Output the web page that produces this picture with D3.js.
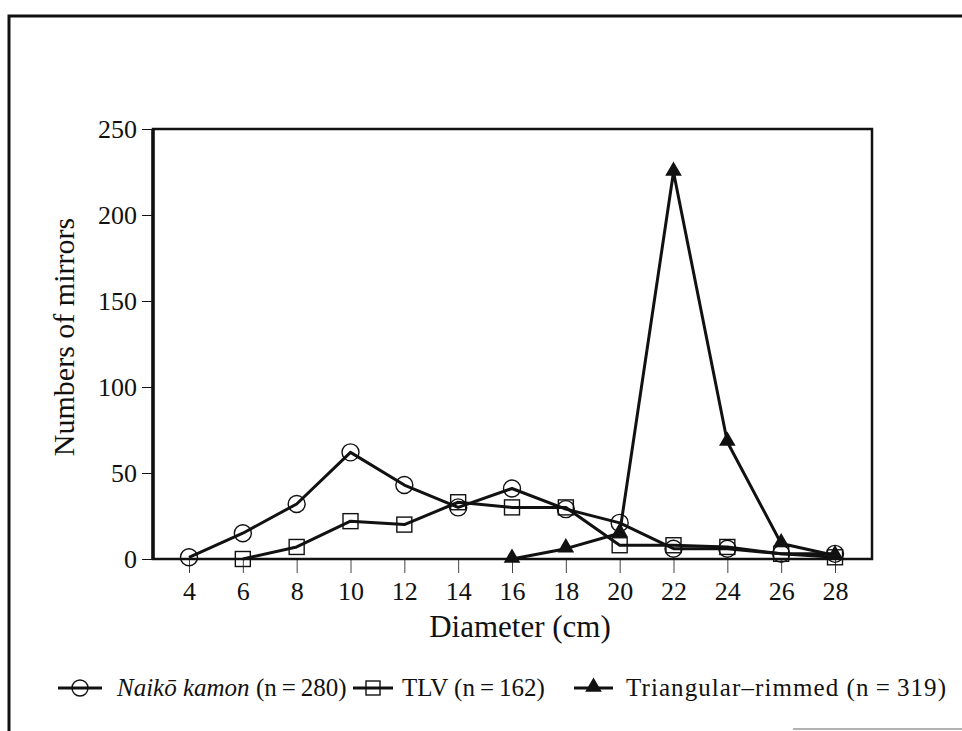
<!DOCTYPE html>
<html>
<head>
<meta charset="utf-8">
<script src="https://cdn.jsdelivr.net/npm/d3@7"></script>
<style>
  html, body { margin: 0; padding: 0; background: #fff; }
  svg { display: block; }
  svg text { font-family: 'Liberation Serif', serif; }
</style>
</head>
<body>
<svg id="chart" width="962" height="731"></svg>
<script>
// ---- data ----
const diameters = [4, 6, 8, 10, 12, 14, 16, 18, 20, 22, 24, 26, 28];
const naikoValues = [1, 15, 32, 62, 43, 30, 41, 29, 21, 6, 6, 3, 3];
const tlvDiameters = [6, 8, 10, 12, 14, 16, 18, 20, 22, 24, 26, 28];
const tlvValues = [0, 7, 22, 20, 33, 30, 30, 8, 8, 7, 3, 1];
const triDiameters = [16, 18, 20, 22, 24, 26, 28];
const triValues = [0, 6, 15, 225, 68, 9, 2];
const xTicks = [4, 6, 8, 10, 12, 14, 16, 18, 20, 22, 24, 26, 28];
const yTicks = [0, 50, 100, 150, 200, 250];
const seriesNames = ["Naikō kamon", "TLV", "Triangular–rimmed"];
const seriesN = [280, 162, 319];

(function () {
const svg = d3.select("#chart");
const ink = "#111";

// outer frame (scanned page border)
svg.append("path").attr("d", "M9,731 L9,16 L962,16")
  .attr("fill", "none").attr("stroke", ink).attr("stroke-width", 3);
svg.append("line").attr("x1", 793).attr("x2", 962).attr("y1", 729).attr("y2", 729)
  .attr("stroke", "#999").attr("stroke-width", 1.5);

// scales
const pLeft = 153, pRight = 872, pTop = 129, pBottom = 559;
const x = d3.scaleLinear().domain([4, 28]).range([189, 835]);
const y = d3.scaleLinear().domain([0, 250]).range([pBottom, pTop]);

// y axis
const yAxis = d3.axisLeft(y).tickValues(yTicks).tickSize(10).tickPadding(5);
const gy = svg.append("g").attr("transform", `translate(${pLeft - 1},0)`).call(yAxis);
gy.select(".domain").remove();
gy.selectAll(".tick line").attr("stroke", ink).attr("stroke-width", 1);
gy.selectAll(".tick text").attr("font-size", 26).attr("fill", ink);

// x axis
const xAxis = d3.axisBottom(x).tickValues(xTicks).tickSize(14).tickPadding(9);
const gx = svg.append("g").attr("transform", `translate(0,${pBottom})`).call(xAxis);
gx.select(".domain").remove();
gx.selectAll(".tick line").attr("stroke", "#444").attr("stroke-width", 1);
gx.selectAll(".tick text").attr("font-size", 26).attr("fill", ink);

// plot frame
svg.append("rect").attr("x", pLeft).attr("y", pTop).attr("width", pRight - pLeft).attr("height", pBottom - pTop)
  .attr("fill", "none").attr("stroke", ink).attr("stroke-width", 2.5);
svg.append("line").attr("x1", pLeft).attr("x2", pLeft).attr("y1", pTop).attr("y2", pBottom)
  .attr("stroke", ink).attr("stroke-width", 3.5);

// axis titles
svg.append("text").attr("x", 520).attr("y", 637).attr("text-anchor", "middle")
  .attr("fill", ink).attr("font-size", 31).text("Diameter (cm)");
svg.append("text").attr("transform", "translate(74,337) rotate(-90)").attr("text-anchor", "middle")
  .attr("fill", ink).attr("font-size", 30).text("Numbers of mirrors");

// series
const line = d3.line().x(d => x(d[0])).y(d => y(d[1]));
const naiko = diameters.map((d, i) => [d, naikoValues[i]]);
const tlv = tlvDiameters.map((d, i) => [d, tlvValues[i]]);
const tri = triDiameters.map((d, i) => [d, triValues[i]]);

const plot = svg.append("g");
[naiko, tlv, tri].forEach(s => {
  plot.append("path").datum(s).attr("d", line)
    .attr("fill", "none").attr("stroke", ink).attr("stroke-width", 3).attr("stroke-linejoin", "round");
});

function circleMarker(g, cx, cy, r) {
  g.append("circle").attr("cx", cx).attr("cy", cy).attr("r", r)
    .attr("fill", "none").attr("stroke", ink).attr("stroke-width", 1.4);
}
function squareMarker(g, cx, cy, s) {
  g.append("rect").attr("x", cx - s / 2).attr("y", cy - s / 2).attr("width", s).attr("height", s)
    .attr("fill", "none").attr("stroke", ink).attr("stroke-width", 1.4);
}
const triSym = d3.symbol().type(d3.symbolTriangle).size(120);

naiko.forEach(d => circleMarker(plot, x(d[0]), y(d[1]), 8.5));
tlv.forEach(d => squareMarker(plot, x(d[0]), y(d[1]), 15));
tri.forEach(d => plot.append("path").attr("d", triSym)
  .attr("transform", `translate(${x(d[0])},${y(d[1]) - 1})`).attr("fill", ink));

// legend
const ly = 688;
const lg = svg.append("g");
const legendItems = [
  { x0: 58, x1: 102, tx: 117, w: null },
  { x0: 353, x1: 393, tx: 402, w: null },
  { x0: 574, x1: 613, tx: 626, w: 320 }
];
legendItems.forEach((it, i) => {
  lg.append("line").attr("x1", it.x0).attr("x2", it.x1).attr("y1", ly).attr("y2", ly)
    .attr("stroke", ink).attr("stroke-width", 3);
  const cx = (it.x0 + it.x1) / 2;
  if (i === 0) circleMarker(lg, cx, ly, 8);
  else if (i === 1) squareMarker(lg, cx, ly, 14);
  else lg.append("path").attr("d", triSym).attr("transform", `translate(${cx},${ly - 1})`).attr("fill", ink);
  const t = lg.append("text").attr("x", it.tx).attr("y", ly + 8).attr("font-size", 25).attr("fill", ink);
  if (it.w) t.attr("textLength", it.w).attr("lengthAdjust", "spacing");
  if (i === 0) {
    t.append("tspan").attr("font-style", "italic").text(seriesNames[i]);
    t.append("tspan").text(` (n\u2009=\u2009${seriesN[i]})`);
  } else {
    t.text(`${seriesNames[i]} (n\u2009=\u2009${seriesN[i]})`);
  }
});
})();
</script>
</body>
</html>
